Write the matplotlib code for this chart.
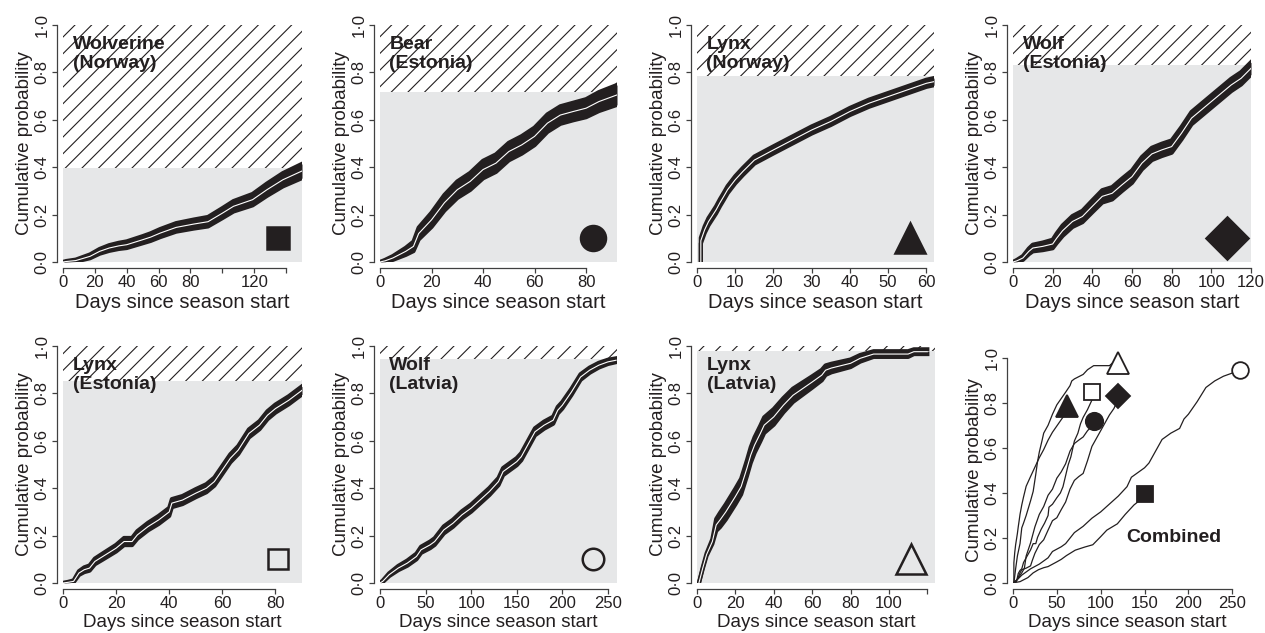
import matplotlib.pyplot as plt

plt.rcParams.update({
    "font.family": ["Liberation Sans", "DejaVu Sans"],
    "hatch.linewidth": 0.8,
})

INK = "#231f20"
GRAY = "#e6e7e8"
SPINE = "#404040"

# ---- data (day, estimate, CI half-width) ----
names = ["Wolverine\n(Norway)", "Bear\n(Estonia)", "Lynx\n(Norway)", "Wolf\n(Estonia)",
         "Lynx\n(Estonia)", "Wolf\n(Latvia)", "Lynx\n(Latvia)"]

wolverine_days = [0, 2, 8, 17, 23, 29, 35, 40, 50, 55, 61, 71, 82, 91, 100, 107, 119, 128, 138, 150]
wolverine_est = [0, 0.002, 0.006, 0.024, 0.045, 0.059, 0.068, 0.073, 0.094, 0.105, 0.122, 0.146,
                 0.16, 0.17, 0.206, 0.235, 0.263, 0.305, 0.347, 0.384]
wolverine_ci = [0, 0.002, 0.004, 0.008, 0.01, 0.012, 0.013, 0.014, 0.015, 0.016, 0.017, 0.018,
                0.019, 0.02, 0.021, 0.022, 0.024, 0.026, 0.028, 0.03]

bear_days = [0, 2, 5, 10, 13, 15, 20, 25, 30, 35, 40, 45, 50, 55, 60, 65, 70, 75, 80, 85, 92]
bear_est = [0, 0.005, 0.017, 0.045, 0.066, 0.12, 0.178, 0.25, 0.305, 0.34, 0.39, 0.417, 0.466,
            0.494, 0.53, 0.586, 0.62, 0.635, 0.649, 0.677, 0.705]
bear_ci = [0, 0.004, 0.008, 0.015, 0.02, 0.025, 0.03, 0.033, 0.035, 0.036, 0.037, 0.037, 0.037,
           0.037, 0.037, 0.037, 0.037, 0.037, 0.038, 0.04, 0.042]

lynx_no_days = [1, 1, 2, 3, 4, 5, 6, 7, 8, 10, 12, 15, 20, 25, 30, 35, 40, 45, 50, 55, 60, 62]
lynx_no_est = [0, 0.09, 0.136, 0.17, 0.195, 0.22, 0.25, 0.277, 0.305, 0.347, 0.382, 0.43, 0.473,
               0.515, 0.557, 0.593, 0.635, 0.67, 0.698, 0.726, 0.754, 0.761]
lynx_no_ci = [0, 0.012, 0.014, 0.015, 0.015, 0.015, 0.015, 0.015, 0.015, 0.015, 0.015, 0.015,
              0.015, 0.015, 0.015, 0.015, 0.015, 0.015, 0.015, 0.015, 0.015, 0.015]

wolf_ee_days = [0, 2, 5, 8, 10, 15, 20, 22, 25, 30, 35, 40, 45, 50, 55, 60, 65, 70, 75, 80,
                85, 90, 95, 100, 105, 110, 115, 120]
wolf_ee_est = [0, 0.005, 0.017, 0.045, 0.059, 0.066, 0.076, 0.1, 0.132, 0.171, 0.192, 0.235,
               0.277, 0.29, 0.326, 0.36, 0.417, 0.456, 0.473, 0.487, 0.544, 0.607, 0.642,
               0.677, 0.712, 0.747, 0.775, 0.817]
wolf_ee_ci = [0, 0.004, 0.008, 0.012, 0.014, 0.016, 0.018, 0.02, 0.022, 0.023, 0.024, 0.025,
              0.026, 0.026, 0.026, 0.026, 0.026, 0.026, 0.026, 0.026, 0.026, 0.026, 0.026,
              0.026, 0.026, 0.026, 0.026, 0.026]

lynx_ee_days = [0, 2, 4, 6, 8, 10, 12, 15, 20, 23, 26, 28, 32, 36, 40, 41, 45, 50, 54, 57,
                60, 63, 66, 70, 74, 77, 80, 85, 90]
lynx_ee_est = [0, 0.003, 0.007, 0.042, 0.056, 0.063, 0.091, 0.112, 0.147, 0.175, 0.175, 0.203,
               0.238, 0.266, 0.3, 0.337, 0.35, 0.379, 0.4, 0.428, 0.477, 0.526, 0.561, 0.631,
               0.666, 0.708, 0.736, 0.771, 0.813]
lynx_ee_ci = [0, 0.002, 0.004, 0.008, 0.01, 0.011, 0.012, 0.013, 0.014, 0.015, 0.015, 0.016,
              0.016, 0.017, 0.017, 0.017, 0.017, 0.017, 0.017, 0.017, 0.017, 0.017, 0.017,
              0.017, 0.017, 0.017, 0.017, 0.017, 0.017]

wolf_lv_days = [0, 3, 10, 20, 30, 40, 45, 55, 60, 70, 80, 90, 100, 110, 120, 130, 135, 140,
                150, 155, 160, 170, 180, 190, 195, 200, 210, 220, 230, 240, 250, 259]
wolf_lv_est = [0, 0.007, 0.035, 0.063, 0.084, 0.112, 0.14, 0.161, 0.175, 0.224, 0.252, 0.288,
               0.316, 0.351, 0.386, 0.428, 0.47, 0.484, 0.512, 0.533, 0.568, 0.638, 0.666,
               0.687, 0.729, 0.75, 0.806, 0.869, 0.898, 0.919, 0.933, 0.94]
wolf_lv_ci = [0, 0.003, 0.006, 0.009, 0.011, 0.012, 0.013, 0.014, 0.014, 0.015, 0.015, 0.015,
              0.015, 0.015, 0.015, 0.015, 0.015, 0.015, 0.015, 0.015, 0.015, 0.015, 0.015,
              0.015, 0.014, 0.014, 0.013, 0.012, 0.011, 0.01, 0.009, 0.008]

lynx_lv_days = [1, 3, 5, 8, 10, 12, 15, 20, 23, 26, 28, 30, 33, 35, 40, 45, 50, 55, 60, 65,
                67, 70, 80, 85, 92, 100, 110, 113, 120]
lynx_lv_est = [0, 0.063, 0.12, 0.175, 0.245, 0.266, 0.3, 0.365, 0.407, 0.484, 0.54, 0.582,
               0.631, 0.666, 0.701, 0.75, 0.792, 0.82, 0.848, 0.877, 0.898, 0.907, 0.927,
               0.948, 0.966, 0.966, 0.966, 0.976, 0.976]
lynx_lv_ci = [0, 0.003, 0.005, 0.01, 0.025, 0.03, 0.032, 0.033, 0.033, 0.033, 0.033, 0.033,
              0.033, 0.033, 0.033, 0.03, 0.028, 0.026, 0.024, 0.022, 0.02, 0.018, 0.016,
              0.014, 0.012, 0.012, 0.012, 0.01, 0.01]

all_days = [wolverine_days, bear_days, lynx_no_days, wolf_ee_days, lynx_ee_days, wolf_lv_days, lynx_lv_days]
all_est = [wolverine_est, bear_est, lynx_no_est, wolf_ee_est, lynx_ee_est, wolf_lv_est, lynx_lv_est]
all_ci = [wolverine_ci, bear_ci, lynx_no_ci, wolf_ee_ci, lynx_ee_ci, wolf_lv_ci, lynx_lv_ci]

# final cumulative probability (top of grey area / combined markers)
final_prob = [0.396, 0.719, 0.785, 0.831, 0.851, 0.947, 0.98]

x_max = [150, 92, 62, 120, 90, 260, 124]
x_ticks = [list(range(0, 141, 20)), list(range(0, 81, 20)), list(range(0, 61, 10)),
           list(range(0, 121, 20)), list(range(0, 81, 20)), list(range(0, 251, 50)),
           list(range(0, 121, 20))]
hidden_ticks = [[100, 140], [], [], [], [], [], [120]]

y_ticks = [0, 0.2, 0.4, 0.6, 0.8, 1.0]
y_labels = ["0·0", "0·2", "0·4", "0·6", "0·8", "1·0"]

markers = ["s", "o", "^", "D", "s", "o", "^"]
filled = [True, True, True, True, False, False, False]
marker_size = [16, 18, 22, 21, 15, 15.5, 21]
combined_size = [11.5, 12.5, 16.5, 12.5, 11, 12, 16.5]

# ---- layout in pixels (data rectangle: left, right, top, bottom) ----
W, H = 1265, 633
fig = plt.figure(figsize=(W / 100, H / 100), dpi=100)

boxes = [(63, 302, 25, 262), (380, 617, 25, 262), (697, 934, 25, 262), (1013, 1251, 25, 262),
         (63, 302, 346, 583), (380, 617, 346, 583), (697, 935, 346, 583)]
combined_box = (1013, 1241, 358, 583)


def add_axes_px(box):
    x0, x1, yt, yb = box
    return fig.add_axes([x0 / W, 1 - yb / H, (x1 - x0) / W, (yb - yt) / H])


def style_axes(ax, xticks, hidden, xlab_size):
    for s in ["top", "right"]:
        ax.spines[s].set_visible(False)
    ax.spines["left"].set_position(("outward", 4.3))
    ax.spines["bottom"].set_position(("outward", 4))
    ax.spines["left"].set_bounds(0, 1)
    ax.spines["bottom"].set_bounds(xticks[0], xticks[-1])
    for s in ["left", "bottom"]:
        ax.spines[s].set_color(SPINE)
        ax.spines[s].set_linewidth(0.9)
    ax.set_ylim(0, 1)
    ax.set_yticks(y_ticks, y_labels, rotation=90, va="center")
    ax.set_xticks(xticks, [("" if t in hidden else str(t)) for t in xticks])
    ax.tick_params(direction="out", length=3.5, width=0.9, color=SPINE,
                   labelsize=12, labelcolor=INK, pad=2)
    ax.set_ylabel("Cumulative probability", fontsize=13.5, color=INK, labelpad=1)
    ax.set_xlabel("Days since season start", fontsize=xlab_size, color=INK, labelpad=2)
    ax.set_facecolor("none")


for i, box in enumerate(boxes):
    ax = add_axes_px(box)
    days, est, ci = all_days[i], all_est[i], all_ci[i]
    lo = [e - c for e, c in zip(est, ci)]
    hi = [e + c for e, c in zip(est, ci)]

    ax.set_xlim(0, x_max[i])
    style_axes(ax, x_ticks[i], hidden_ticks[i], 14.5 if i < 4 else 13.5)

    # hatched region above the final probability, grey below
    ax.axhspan(final_prob[i], 1, facecolor="white", edgecolor=INK, hatch="//",
               linewidth=0, zorder=0)
    ax.axhspan(0, final_prob[i], facecolor=GRAY, linewidth=0, zorder=0)

    # confidence band in black with the estimate as a thin white line
    ax.fill_between(days, lo, hi, color=INK, linewidth=0, zorder=2)
    ax.plot(days, lo, color=INK, lw=3.0, zorder=2)
    ax.plot(days, hi, color=INK, lw=3.0, zorder=2)
    ax.plot(days, est, color="white", lw=0.8, zorder=3)

    ax.plot(0.9, 0.1, transform=ax.transAxes, marker=markers[i], ms=marker_size[i],
            mfc=INK if filled[i] else "none", mec=INK, mew=1.8, linestyle="none",
            clip_on=False, zorder=4)
    ax.text(0.04, 0.955, names[i], transform=ax.transAxes, fontsize=14,
            fontweight="bold", color=INK, va="top", ha="left", linespacing=1.15, zorder=5)

# ---- combined panel ----
ax = add_axes_px(combined_box)
ax.set_xlim(0, 260)
style_axes(ax, list(range(0, 251, 50)), [], 13.5)
for i in range(7):
    ax.plot(all_days[i], all_est[i], color=INK, lw=0.9, zorder=2)
    ax.plot(all_days[i][-1], final_prob[i], marker=markers[i], ms=combined_size[i],
            mfc=INK if filled[i] else "white", mec=INK, mew=1.3, linestyle="none",
            clip_on=False, zorder=4)
ax.text(183, 0.2, "Combined", fontsize=14, fontweight="bold", color=INK,
        ha="center", va="center")

fig.savefig("out.png", dpi=100)
